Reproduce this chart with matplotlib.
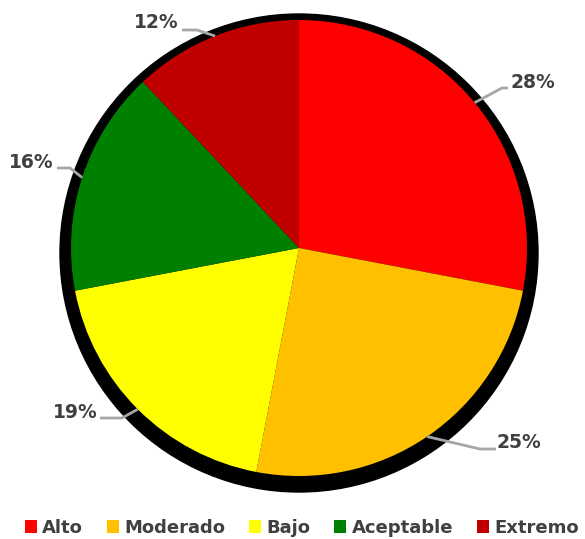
import matplotlib
matplotlib.use('Agg')
import matplotlib.pyplot as plt
from matplotlib.patches import Circle
import numpy as np

W, H = 585, 539

categories = ['Alto', 'Moderado', 'Bajo', 'Aceptable', 'Extremo']
shares = [28, 25, 19, 16, 12]
colors = ['#FF0000', '#FFC000', '#FFFF00', '#008000', '#C00000']

# label layout in pixel coords (y down): text anchor, elbow x, line end x, ha
label_layout = [
    ((511, 83), 502, 508, 'left'),
    ((497, 443), 480, 496, 'left'),
    ((98, 412), 122, 100, 'right'),
    ((54, 163), 70, 57, 'right'),
    ((179, 23), 197, 182, 'right'),
]
line_dy = [5, 6, 6, 5, 7]

cx, cy, r = 299, 248, 228


def py(y):
    return H - y


fig = plt.figure(figsize=(W / 100, H / 100), dpi=100)
ax = fig.add_axes([0, 0, 1, 1])

# black rim / shadow
ax.add_patch(Circle((cx, py(cy + 5)), r + 11, color='black', zorder=1))

wedges, _ = ax.pie(shares, colors=colors, startangle=90, counterclock=False,
                   center=(cx, py(cy)), radius=r, frame=True,
                   wedgeprops=dict(linewidth=0, zorder=2))
ax.set_xlim(0, W)
ax.set_ylim(0, H)
ax.set_aspect('equal')
ax.axis('off')

for w, val, (txt, ex, lx, ha), dy in zip(wedges, shares, label_layout, line_dy):
    mid = np.deg2rad((w.theta1 + w.theta2) / 2)
    sx = cx + r * np.cos(mid)
    sy = py(cy) + r * np.sin(mid)
    ly = py(txt[1] + dy)
    ax.plot([sx, ex, lx], [sy, ly, ly], color='#A6A6A6', lw=2, zorder=3,
            solid_capstyle='butt')
    ax.text(txt[0], py(txt[1]), f'{val}%', ha=ha, va='center',
            fontsize=13.5, fontweight='bold', color='#404040', zorder=4)

fig.legend(wedges, categories, loc='center', bbox_to_anchor=(0.516, 1 - 528 / H),
           ncol=5, frameon=False, handlelength=0.68, handleheight=0.68,
           handletextpad=0.3, columnspacing=1.3, labelcolor='#404040',
           prop=dict(size=13, weight='bold'))

fig.savefig('out.png', dpi=100)
